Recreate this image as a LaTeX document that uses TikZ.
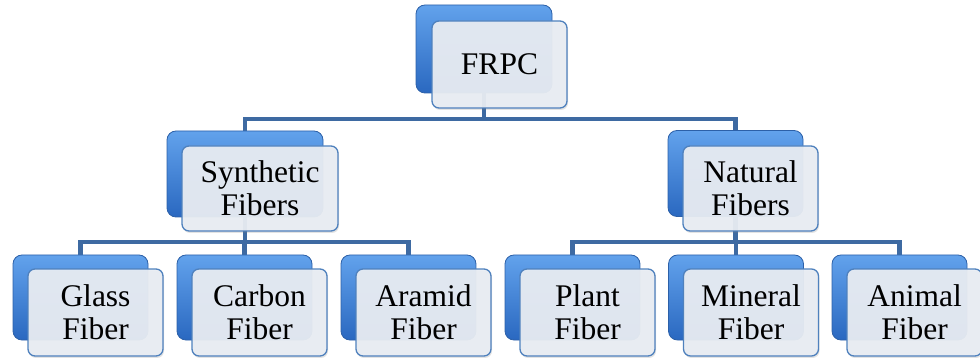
\documentclass[tikz,border=0pt]{standalone}
\usepackage{fontspec}
\setmainfont{Liberation Serif}
\usetikzlibrary{shadows}
\pgfdeclarelayer{bg}
\pgfsetlayers{bg,main}
\definecolor{conncol}{RGB}{62,106,162}
\definecolor{backtop}{RGB}{98,162,236}
\definecolor{backbot}{RGB}{42,104,192}
\definecolor{backdraw}{RGB}{44,96,168}
\definecolor{frontfill}{RGB}{233,237,243}
\definecolor{frontdraw}{RGB}{79,129,189}
\tikzset{
  backbox/.style={draw=backdraw, line width=0.8pt, rounded corners=9pt,
    top color=backtop, bottom color=backbot, inner sep=0pt,
    minimum width=135pt, minimum height=85pt},
  frontbox/.style={draw=frontdraw, line width=1.3pt, rounded corners=7pt,
    fill=frontfill, fill opacity=0.94, text opacity=1, inner sep=0pt,
    minimum width=135pt, minimum height=87pt, align=center,
    font=\fontsize{31.5}{33}\selectfont,
    drop shadow={opacity=0.22, shadow xshift=1pt, shadow yshift=-2pt}},
  conn/.style={draw=conncol, line width=4.5pt}
}
\begin{document}
\begin{tikzpicture}[x=1pt, y=-1pt]
\useasboundingbox (0,0) rectangle (980,358);
% top level
\node[backbox, minimum width=136pt, minimum height=88pt] (frpcB) at (484,49) {};
\node[frontbox] (frpc) at (499.5,64.5) {FRPC};
% second level
\node[backbox, minimum width=156pt, minimum height=86pt] (synB) at (245,174) {};
\node[frontbox, minimum width=156pt, minimum height=85pt] (syn) at (260,188.5) {Synthetic\\Fibers};
\node[backbox, minimum width=135pt, minimum height=86pt] (natB) at (735.5,173.5) {};
\node[frontbox, minimum width=135pt, minimum height=85pt] (nat) at (750.5,188.5) {Natural\\Fibers};
% leaves
\node[backbox] (glassB) at (80.5,297.5) {};
\node[frontbox] (glass) at (95.5,312.5) {Glass\\Fiber};
\node[backbox] (carbonB) at (244.5,297.5) {};
\node[frontbox] (carbon) at (259.5,312.5) {Carbon\\Fiber};
\node[backbox] (aramidB) at (408.5,297.5) {};
\node[frontbox] (aramid) at (423.5,312.5) {Aramid\\Fiber};
\node[backbox] (plantB) at (572.5,297.5) {};
\node[frontbox] (plant) at (587.5,312.5) {Plant\\Fiber};
\node[backbox] (mineralB) at (736,297.5) {};
\node[frontbox] (mineral) at (751,312.5) {Mineral\\Fiber};
\node[backbox] (animalB) at (899.5,297.5) {};
\node[frontbox] (animal) at (914.5,312.5) {Animal\\Fiber};
% bus levels
\coordinate (busT) at (0,119);
\coordinate (busB) at (0,242);
\begin{pgfonlayer}{bg}
\draw[conn] (frpcB.south) -- (frpcB.south |- busT) -| (synB.north);
\draw[conn] (frpcB.south |- busT) -| (natB.north);
\draw[conn] (synB.south) -- (synB.south |- busB) -| (glassB.north);
\draw[conn] (synB.south |- busB) -| (carbonB.north);
\draw[conn] (synB.south |- busB) -| (aramidB.north);
\draw[conn] (natB.south) -- (natB.south |- busB) -| (plantB.north);
\draw[conn] (natB.south |- busB) -| (mineralB.north);
\draw[conn] (natB.south |- busB) -| (animalB.north);
\end{pgfonlayer}
\end{tikzpicture}
\end{document}
